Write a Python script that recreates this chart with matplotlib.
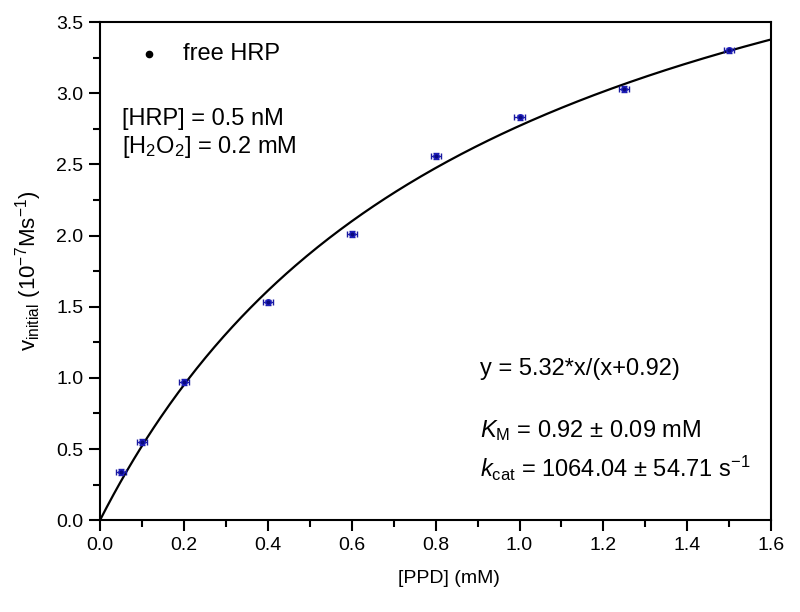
import matplotlib
matplotlib.use("Agg")
import matplotlib.pyplot as plt
import numpy as np
from matplotlib.ticker import MultipleLocator, FormatStrFormatter

plt.rcParams['font.family'] = ['Liberation Sans', 'DejaVu Sans']
plt.rcParams['mathtext.fontset'] = 'custom'
plt.rcParams['mathtext.rm'] = 'Liberation Sans'
plt.rcParams['mathtext.it'] = 'Liberation Sans:italic'

ppd = [0.05, 0.1, 0.2, 0.4, 0.6, 0.8, 1.0, 1.25, 1.5]
v_init = [0.34, 0.55, 0.97, 1.53, 2.01, 2.56, 2.83, 3.03, 3.30]
v_err = [0.02, 0.02, 0.02, 0.02, 0.02, 0.02, 0.02, 0.02, 0.02]
vmax = 5.32
km = 0.92

fig = plt.figure(figsize=(8, 6.12), dpi=100)
ax = fig.add_axes([0.125, 0.150, 0.839, 0.814])

xf = np.linspace(0, 1.6, 300)
ax.plot(xf, vmax * xf / (xf + km), color='black', lw=1.6, zorder=2)
ax.errorbar(ppd, v_init, yerr=v_err, xerr=0.012, fmt='o', ms=4, color='#1a1aa0',
            mfc='#0a0a80', mec='#2020c0', elinewidth=1.0, capsize=2, zorder=3)

ax.set_xlim(0, 1.6)
ax.set_ylim(0, 3.5)
ax.xaxis.set_major_locator(MultipleLocator(0.2))
ax.xaxis.set_minor_locator(MultipleLocator(0.1))
ax.yaxis.set_major_locator(MultipleLocator(0.5))
ax.yaxis.set_minor_locator(MultipleLocator(0.25))
ax.xaxis.set_major_formatter(FormatStrFormatter('%.1f'))
ax.yaxis.set_major_formatter(FormatStrFormatter('%.1f'))
ax.tick_params(which='major', direction='out', length=8, width=1.5, labelsize=14, pad=4)
ax.tick_params(which='minor', direction='out', length=5, width=1.5)
for s in ax.spines.values():
    s.set_linewidth(1.5)

ax.set_xlabel('[PPD] (mM)', fontsize=14)
ax.xaxis.set_label_coords(0.52, -0.118, transform=ax.transAxes)
ax.xaxis.label.set_va('center')
ax.set_ylabel(r'v$_{\mathrm{initial}}$ (10$^{-7}$Ms$^{-1}$)', fontsize=16, labelpad=9)

ax.plot([0.117], [3.275], 'o', color='black', ms=4.5)
ax.text(0.198, 3.275, 'free HRP', fontsize=17, va='center')
ax.text(0.052, 2.776, '[HRP] = 0.5 nM', fontsize=17, va='baseline')
ax.text(0.052, 2.58, r'[H$_2$O$_2$] = 0.2 mM', fontsize=17, va='baseline')

ax.text(0.905, 1.019, 'y = 5.32*x/(x+0.92)', fontsize=17, va='baseline')
ax.text(0.905, 0.583, r'$K_{\mathrm{M}}$ = 0.92 ± 0.09 mM', fontsize=17, va='baseline')
ax.text(0.905, 0.302, r'$k_{\mathrm{cat}}$ = 1064.04 ± 54.71 s$^{-1}$', fontsize=17, va='baseline')

fig.savefig('out.png', dpi=100)
